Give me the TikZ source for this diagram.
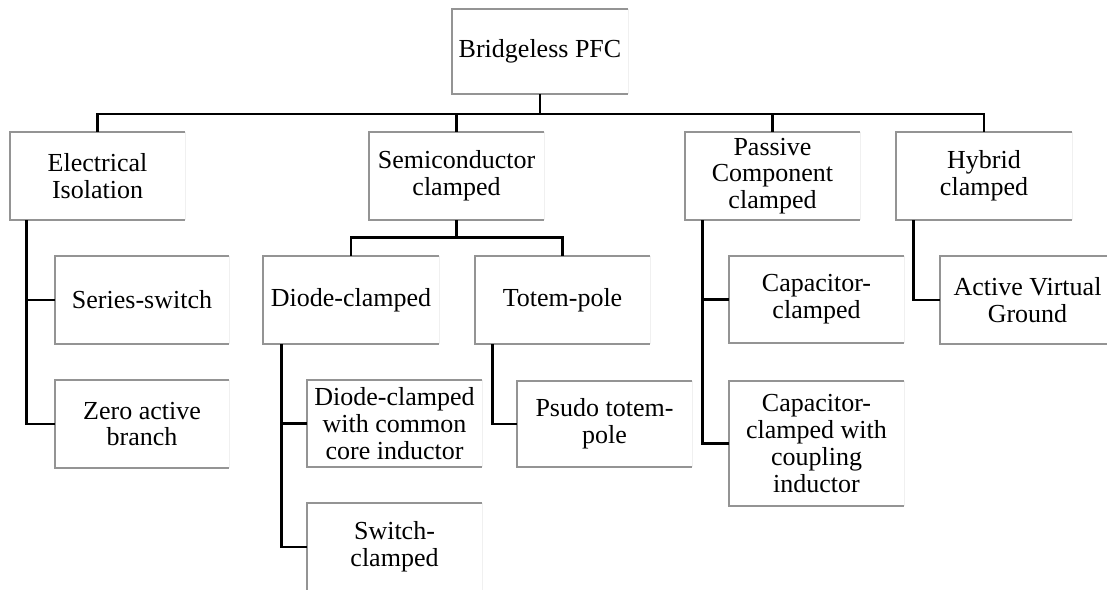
\documentclass[tikz,border=0pt]{standalone}
\usepackage{fontspec}
\setmainfont{Liberation Serif}
\usetikzlibrary{calc}
\tikzset{
  box/.style={fill=white, inner sep=0pt, align=center, font=\fontsize{26}{26.7}\selectfont},
  conn/.style={line width=2.9pt, black, line join=miter},
  edge/.style={line width=1.7pt, black!42},
  faint/.style={line width=1.2pt, black!6}
}
\begin{document}
\begin{tikzpicture}[x=1pt,y=-1pt]
\useasboundingbox[fill=white] (0,0) rectangle (1107,589);
% nodes
\node[box, minimum width=176, minimum height=85] (root) at (540,51.5) {Bridgeless PFC};
\node[box, minimum width=175, minimum height=88] (EI) at (97.5,176) {Electrical\\Isolation};
\node[box, minimum width=175, minimum height=88] (SC) at (456.5,176) {Semiconductor\\clamped};
\node[box, minimum width=175, minimum height=88] (PC) at (772.5,176) {Passive\\Component\\clamped};
\node[box, minimum width=176, minimum height=88] (HC) at (984,176) {Hybrid\\clamped};
\node[box, minimum width=174, minimum height=88] (SS) at (142,300) {Series-switch};
\node[box, minimum width=174, minimum height=88] (ZA) at (142,424) {Zero active\\branch};
\node[box, minimum width=176, minimum height=88] (DC) at (351,300) {Diode-clamped};
\node[box, minimum width=175, minimum height=88] (TP) at (562.5,300) {Totem-pole};
\node[box, minimum width=175, minimum height=87] (DCC) at (394.5,423.5) {Diode-clamped\\with common\\core inductor};
\node[box, minimum width=175, minimum height=88] (SWC) at (394.5,547) {Switch-\\clamped};
\node[box, minimum width=175, minimum height=86] (PT) at (604.5,424) {Psudo totem-\\pole};
\node[box, minimum width=175, minimum height=87] (CC) at (816.5,299.5) {Capacitor-\\clamped};
\node[box, minimum width=175, minimum height=125] (CCC) at (816.5,443.5) {Capacitor-\\clamped with\\coupling\\inductor};
\node[box, minimum width=175, minimum height=88] (AVG) at (1027.5,300) {Active Virtual\\Ground};
% box borders (right edge faint)
\foreach \n in {root,EI,SC,PC,HC,SS,ZA,DC,TP,DCC,SWC,PT,CC,CCC,AVG}{
  \draw[faint] (\n.north east) -- (\n.south east);
  \draw[edge] (\n.north east) -- (\n.north west) -- (\n.south west) -- (\n.south east);
}
% top-level bus
\coordinate (bus) at (0,114);
\draw[conn] (root.south) -- (root.south |- bus);
\draw[conn] (EI.north) -- (EI.north |- bus) -- (HC.north |- bus) -- (HC.north);
\draw[conn] (SC.north) -- (SC.north |- bus);
\draw[conn] (PC.north) -- (PC.north |- bus);
% semiconductor bus
\coordinate (bustwo) at (0,237.5);
\draw[conn] (SC.south) -- (SC.south |- bustwo);
\draw[conn] (DC.north) -- (DC.north |- bustwo) -- (TP.north |- bustwo) -- (TP.north);
% side spines
\coordinate (eis) at ($(EI.south west)+(17,0)$);
\draw[conn] (eis) |- (ZA.west);
\draw[conn] (eis |- SS.west) -- (SS.west);
\coordinate (dcs) at ($(DC.south west)+(19,0)$);
\draw[conn] (dcs) |- (SWC.west);
\draw[conn] (dcs |- DCC.west) -- (DCC.west);
\coordinate (tps) at ($(TP.south west)+(18,0)$);
\draw[conn] (tps) |- (PT.west);
\coordinate (pcs) at ($(PC.south west)+(18,0)$);
\draw[conn] (pcs) |- (CCC.west);
\draw[conn] (pcs |- CC.west) -- (CC.west);
\coordinate (hcs) at ($(HC.south west)+(17.5,0)$);
\draw[conn] (hcs) |- (AVG.west);
\end{tikzpicture}
\end{document}
